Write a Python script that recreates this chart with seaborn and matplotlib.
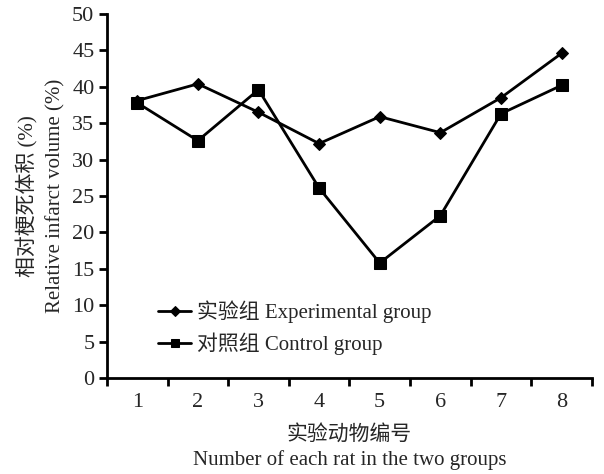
import numpy as np
import pandas as pd
import matplotlib
matplotlib.use("Agg")
import matplotlib.pyplot as plt
import seaborn as sns

# values
rats = [1, 2, 3, 4, 5, 6, 7, 8]
experimental = [38.1, 40.4, 36.5, 32.2, 35.9, 33.7, 38.5, 44.6]
control = [37.8, 32.6, 39.6, 26.1, 15.8, 22.3, 36.3, 40.2]
exp_label = "实验组 Experimental group"
ctrl_label = "对照组 Control group"

df = pd.DataFrame({
    "rat": rats * 2,
    "volume": experimental + control,
    "group": [exp_label] * len(rats) + [ctrl_label] * len(rats),
})

sns.set_style("ticks")
plt.rcParams["font.family"] = ["Liberation Serif", "Noto Sans CJK SC"]
plt.rcParams["font.size"] = 15

fig = plt.figure(figsize=(6.04, 4.74), dpi=100)
ax = fig.add_axes([0.177, 0.2025, 0.803, 0.768])

sns.lineplot(data=df, x="rat", y="volume", hue="group", style="group",
             palette=["black", "black"], markers={exp_label: "D", ctrl_label: "s"},
             dashes=False, markersize=8, linewidth=2, markeredgecolor="black",
             ax=ax)

# shrink diamond a bit
for ln in ax.lines:
    if ln.get_marker() == "D":
        ln.set_markersize(6.5)

ax.set_xlim(0.5, 8.5)
ax.set_ylim(0, 50)
ax.set_yticks(np.arange(0, 51, 5))
ax.set_xticks(np.arange(0.5, 9, 1))
ax.set_xticklabels([])
ax.set_xticks(rats, minor=True)
ax.set_xticklabels([str(r) for r in rats], minor=True)
ax.tick_params(axis="x", which="minor", length=0, pad=11, labelsize=16)
ax.tick_params(axis="both", which="major", direction="out", length=6, width=2,
               labelsize=16, color="black")
ax.tick_params(axis="y", pad=3)

sns.despine(ax=ax)
for s in ["left", "bottom"]:
    ax.spines[s].set_linewidth(2)
    ax.spines[s].set_color("black")

ax.set_xlabel("实验动物编号\nNumber of each rat in the two groups", fontsize=15,
              linespacing=1.35, labelpad=9)
ax.set_ylabel("相对梗死体积 (%)\nRelative infarct volume (%)", fontsize=15,
              linespacing=1.5, labelpad=5)

ax.legend(loc="upper left", bbox_to_anchor=(0.105, 0.212), frameon=False,
          fontsize=15, handlelength=1.6, handletextpad=0.3, labelspacing=0.45,
          markerscale=0.8, borderpad=0, borderaxespad=0)

fig.savefig("out.png", dpi=100, facecolor="white")
